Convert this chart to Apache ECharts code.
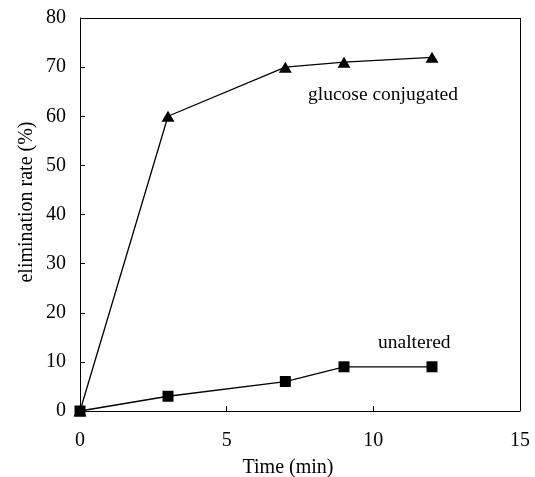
<!DOCTYPE html>
<html><head><meta charset="utf-8">
<script src="https://cdn.jsdelivr.net/npm/echarts@6/dist/echarts.min.js"></script>
<style>html,body{margin:0;padding:0;background:#fff}#c{width:535px;height:477px}</style>
</head><body><div id="c"></div>
<script>
const timeMin = [0, 3, 7, 9, 12];
const glucoseConjugated = [0, 60, 70, 71, 72];
const unaltered = [0, 3, 6, 9, 9];
const xTitle = 'Time (min)';
const yTitle = 'elimination rate (%)';
const seriesNames = ['glucose conjugated', 'unaltered'];

const font = 'Liberation Serif';
const chart = echarts.init(document.getElementById('c'));
chart.setOption({
  animation: false,
  backgroundColor: '#fff',
  grid: {left: 80, top: 18, right: 15, bottom: 66, containLabel: false, outerBoundsMode: 'none'},
  xAxis: {
    type: 'value', min: 0, max: 15, interval: 5,
    axisLine: {show: true, onZero: false, lineStyle: {color: '#000', width: 1}},
    axisTick: {show: true, inside: true, length: 5, lineStyle: {color: '#000'}},
    axisLabel: {fontFamily: font, fontSize: 20, color: '#000', margin: 20},
    splitLine: {show: false}
  },
  yAxis: {
    type: 'value', min: 0, max: 80, interval: 10,
    axisLine: {show: true, lineStyle: {color: '#000', width: 1}},
    axisTick: {show: true, inside: true, length: 5, lineStyle: {color: '#000'}},
    axisLabel: {fontFamily: font, fontSize: 20, color: '#000', margin: 14},
    splitLine: {show: false}
  },
  series: [
    {
      type: 'line', name: seriesNames[0],
      data: timeMin.map((t, i) => [t, glucoseConjugated[i]]),
      symbol: 'triangle', symbolSize: [13, 11],
      lineStyle: {color: '#000', width: 1.3},
      itemStyle: {color: '#000'}
    },
    {
      type: 'line', name: seriesNames[1],
      data: timeMin.map((t, i) => [t, unaltered[i]]),
      symbol: 'rect', symbolSize: 11,
      lineStyle: {color: '#000', width: 1.3},
      itemStyle: {color: '#000'}
    },
    {
      type: 'line', data: [],
      markLine: {silent: true, symbol: 'none', label: {show: false},
        lineStyle: {color: '#000', width: 1, type: 'solid'},
        data: [
          [{coord: [0, 80]}, {coord: [15, 80]}],
          [{coord: [15, 0]}, {coord: [15, 80]}]
        ]}
    }
  ],
  graphic: [
    {type: 'text', x: 308, y: 95, style: {text: seriesNames[0], font: '19.5px "Liberation Serif"', fill: '#000', textVerticalAlign: 'middle'}},
    {type: 'text', x: 378, y: 343, style: {text: seriesNames[1], font: '19.5px "Liberation Serif"', fill: '#000', textVerticalAlign: 'middle'}},
    {type: 'text', x: 288, y: 468, style: {text: xTitle, font: '20px "Liberation Serif"', fill: '#000', textAlign: 'center', textVerticalAlign: 'middle'}},
    {type: 'text', x: 27, y: 202, rotation: Math.PI / 2, style: {text: yTitle, font: '20px "Liberation Serif"', fill: '#000', textAlign: 'center', textVerticalAlign: 'middle'}}
  ]
});
</script></body></html>
